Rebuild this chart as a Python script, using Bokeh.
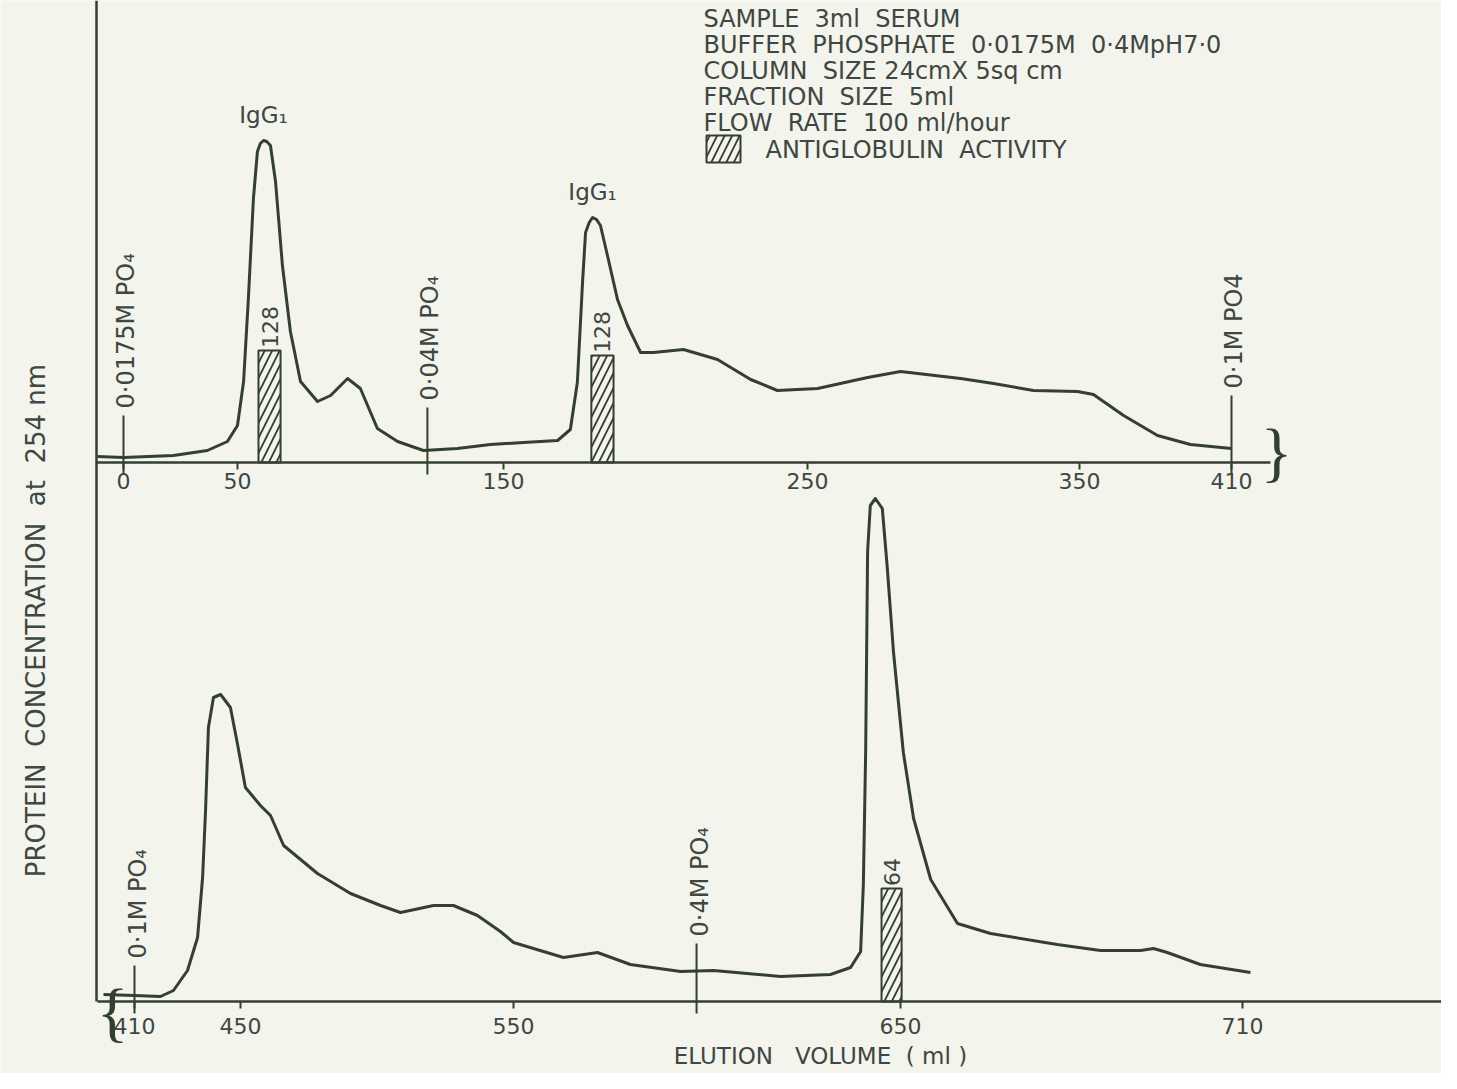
import numpy as np
from bokeh.plotting import figure
from bokeh.models import Range1d, LinearAxis, FixedTicker
from bokeh.core.properties import value
from bokeh.embed import file_html
from bokeh.resources import INLINE

# ---------------------------------------------------------------- data
# Upper trace: elution volume (ml, read against the printed axis) and A254 (arbitrary units)
TOP_ML = [-11.4, 0, 21.9, 36.8, 45.6, 50, 52.3, 54.1, 56.0, 57.5, 58.6, 59.8, 61.0, 62.4,
          64.3, 66.9, 69.9, 73.7, 80.1, 85.0, 91.4, 96.2, 102.6, 110.2, 119.9, 132.7,
          145.1, 156.6, 167.8, 172.0, 174.3, 176.0, 177.0, 178.2, 179.3, 180.6, 181.9,
          184.2, 187.5, 190.8, 195.1, 199.3, 209.2, 220.4, 231.3, 240.1, 253.7, 272.1,
          284.2, 306.3, 318.4, 333.1, 349.3, 355.5, 367.4, 380.8, 393.8, 410]
TOP_A254 = [0.03, 0.025, 0.035, 0.06, 0.105, 0.185, 0.405, 0.82, 1.32, 1.555, 1.595, 1.61,
            1.605, 1.585, 1.405, 0.985, 0.655, 0.405, 0.305, 0.335, 0.42, 0.37, 0.17, 0.105,
            0.06, 0.07, 0.09, 0.10, 0.11, 0.165, 0.40, 0.90, 1.15, 1.20, 1.225, 1.215, 1.185,
            1.035, 0.815, 0.685, 0.55, 0.55, 0.565, 0.515, 0.415, 0.36, 0.37, 0.425, 0.455,
            0.42, 0.395, 0.36, 0.355, 0.34, 0.235, 0.135, 0.09, 0.07]

# Lower trace
BOT_ML = [398.3, 410, 419.8, 424.7, 430.0, 433.8, 435.7, 436.8, 437.9, 439.8, 442.5, 446.2,
          448.9, 451.8, 457.3, 461.0, 465.8, 478.2, 490.3, 501.3, 508.6, 520.7, 528.0,
          536.8, 545.2, 550.0, 562.9, 571.7, 580.2, 593.2, 601.7, 619.0, 631.9, 637.1,
          639.7, 640.4, 641.0, 641.5, 642.2, 643.5, 645.3, 646.6, 648.2, 650.5, 652.3,
          655.3, 660.0, 665.8, 677.5, 685.1, 692.1, 694.4, 696.8, 702.6, 711.4]
BOT_A254 = [0.035, 0.03, 0.025, 0.055, 0.155, 0.32, 0.62, 0.95, 1.37, 1.52, 1.535, 1.47,
            1.285, 1.07, 0.98, 0.93, 0.78, 0.64, 0.54, 0.48, 0.445, 0.48, 0.48, 0.43, 0.35,
            0.295, 0.22, 0.245, 0.185, 0.15, 0.155, 0.125, 0.135, 0.17, 0.25, 0.585, 1.25,
            2.25, 2.48, 2.515, 2.465, 2.165, 1.745, 1.245, 0.915, 0.61, 0.39, 0.34, 0.285,
            0.255, 0.255, 0.265, 0.245, 0.185, 0.145]

TOP_TICKS = [0, 50, 150, 250, 350, 410]
BOT_TICKS = [410, 450, 550, 650, 710]

# antiglobulin activity (hatched): fraction limits (ml), bar height, titre
TOP_BAR_FROM = [57.9, 178.9]
TOP_BAR_TO = [66.2, 186.2]
TOP_BAR_H = [0.56, 0.535]
TOP_TITRE = ["128", "128"]
BOT_BAR_FROM = [645.1]
BOT_BAR_TO = [650.2]
BOT_BAR_H = [0.565]
BOT_TITRE = ["64"]

# buffer changes
TOP_BUFFER_ML = [0, 121.4, 410]
TOP_BUFFER = ["0·0175M PO₄", "0·04M PO₄", "0·1M PO4"]
BOT_BUFFER_ML = [410, 597.3]
BOT_BUFFER = ["0·1M PO₄", "0·4M PO₄"]

PEAK_NAMES = ["IgG₁", "IgG₁"]
PEAK_ML = [59.8, 179.3]
PEAK_A254 = [1.61, 1.225]

NB = " \u00a0"  # a wide gap that survives SVG whitespace collapsing
LEGEND_LINES = ["SAMPLE" + NB + "3ml" + NB + "SERUM",
                "BUFFER" + NB + "PHOSPHATE" + NB + "0·0175M" + NB + "0·4MpH7·0",
                "COLUMN" + NB + "SIZE 24cmX 5sq cm",
                "FRACTION" + NB + "SIZE" + NB + "5ml",
                "FLOW" + NB + "RATE" + NB + "100 ml/hour"]
LEGEND_KEY = "ANTIGLOBULIN" + NB + "ACTIVITY"
Y_TITLE = "PROTEIN" + NB + "CONCENTRATION" + NB + "at" + NB + "254 nm"
X_TITLE = "ELUTION" + NB + "\u00a0VOLUME" + NB + "( ml )"

# ---------------------------------------------------------------- layout / style
W, H = 1441, 1073
BG = "#f3f4ec"
INK = "#33402f"
TXT = "#3e4741"
FONT = "DejaVu Sans"

# The hand-lettered axes are not evenly spaced: where each printed tick lies on a linear scale
TOP_TICK_AT = [0.0, 42.18, 140.61, 253.11, 353.76, 410.0]
BOT_TICK_AT = [410.0, 438.70, 512.62, 617.40, 710.0]
TOP_MARK_LEN = [0.235, 0.275, 0.335]
BOT_MARK_LEN = [0.18, 0.29]


def warp(v, ticks, at):
    v = np.asarray(v, dtype=float)
    out = np.interp(v, ticks, at)
    lo, hi = v < ticks[0], v > ticks[-1]
    out[lo] = at[0] + (v[lo] - ticks[0]) * (at[1] - at[0]) / (ticks[1] - ticks[0])
    out[hi] = at[-1] + (v[hi] - ticks[-1]) * (at[-1] - at[-2]) / (ticks[-1] - ticks[-2])
    return out


def PY(py):  # picture row -> default y (pixels from the bottom of the frame)
    return H - py


p = figure(width=W, height=H, x_range=Range1d(0, W), y_range=Range1d(0, H),
           output_backend="svg", toolbar_location=None,
           x_axis_location=None, y_axis_location=None, min_border=0,
           background_fill_color=BG, border_fill_color=BG, outline_line_color=None)
p.grid.visible = False

p.extra_x_ranges = {"top": Range1d(-45.51, 487.71), "bot": Range1d(373.72, 763.88)}
p.extra_y_ranges = {"top": Range1d(-3.055, 2.31), "bot": Range1d(-0.36, 5.005)}

TXTKW = dict(text_font=value(FONT), text_color=TXT)
HATCH = dict(fill_color=BG, line_color=INK, line_width=2, hatch_pattern="/",
             hatch_color=INK, hatch_weight=1.8, hatch_scale=15)

for name, ml, a, ticks, at, bf, bt, bh, titre, bml, blab, blen in [
    ("top", TOP_ML, TOP_A254, TOP_TICKS, TOP_TICK_AT, TOP_BAR_FROM, TOP_BAR_TO, TOP_BAR_H,
     TOP_TITRE, TOP_BUFFER_ML, TOP_BUFFER, TOP_MARK_LEN),
    ("bot", BOT_ML, BOT_A254, BOT_TICKS, BOT_TICK_AT, BOT_BAR_FROM, BOT_BAR_TO, BOT_BAR_H,
     BOT_TITRE, BOT_BUFFER_ML, BOT_BUFFER, BOT_MARK_LEN)]:
    rk = dict(x_range_name=name, y_range_name=name)
    left, right = warp(bf, ticks, at), warp(bt, ticks, at)
    p.quad(left=left, right=right, bottom=0, top=bh, **HATCH, **rk)
    p.text(x=(left + right) / 2, y=np.array(bh) + 0.012, text=titre, angle=np.pi / 2,
           text_align="left", text_baseline="middle", text_font_size="22px", **TXTKW, **rk)
    mx = warp(bml, ticks, at)
    p.segment(x0=mx, y0=-0.06, x1=mx, y1=blen, line_color=INK, line_width=2, **rk)
    p.text(x=mx + 1.0, y=np.array(blen) + 0.035, text=blab, angle=np.pi / 2,
           text_align="left", text_baseline="middle", text_font_size="24px", **TXTKW, **rk)
    p.line(warp(ml, ticks, at), a, line_width=3, line_color=INK, line_join="round", **rk)

p.text(x=warp(PEAK_ML, TOP_TICKS, TOP_TICK_AT), y=np.array(PEAK_A254) + 0.13, text=PEAK_NAMES,
       text_align="center", text_baseline="middle", text_font_size="23px",
       x_range_name="top", y_range_name="top", **TXTKW)

# axes
axkw = dict(axis_line_color=INK, axis_line_width=2.5, major_tick_line_color=INK,
            major_tick_line_width=2, major_tick_in=0, major_tick_out=7, minor_tick_out=0,
            minor_tick_in=0, major_label_text_font=FONT, major_label_text_color=TXT,
            major_label_text_font_size="22px")
top_ax = LinearAxis(x_range_name="top", y_range_name="top", fixed_location=0,
                    ticker=FixedTicker(ticks=TOP_TICK_AT),
                    major_label_overrides={t: str(l) for t, l in zip(TOP_TICK_AT, TOP_TICKS)},
                    bounds=(-10.0, 424.4), major_label_standoff=3, **axkw)
p.add_layout(top_ax, "below")
bot_ax = LinearAxis(x_range_name="bot", y_range_name="bot", fixed_location=0,
                    ticker=FixedTicker(ticks=BOT_TICK_AT),
                    major_label_overrides={t: str(l) for t, l in zip(BOT_TICK_AT, BOT_TICKS)},
                    bounds=(400.0, 763.88), major_label_standoff=9, **axkw)
p.add_layout(bot_ax, "below")
y_ax = LinearAxis(y_range_name="bot", fixed_location=96, ticker=FixedTicker(ticks=[]),
                  bounds=(0, 5.005), axis_line_color=INK, axis_line_width=2.5,
                  major_tick_out=0, minor_tick_out=0, major_label_text_font_size="0px")
p.add_layout(y_ax, "left")

# axis break marks
p.text(x=[1276, 112], y=[PY(451), PY(1011)], text=["}", "{"], text_align="center",
       text_baseline="middle", text_font_size="66px", text_font=value("Liberation Serif"),
       text_color=INK)

# titles
p.text(x=[35], y=[PY(620)], text=[Y_TITLE], angle=np.pi / 2, text_align="center",
       text_baseline="middle", text_font_size="26px", **TXTKW)
p.text(x=[820], y=[PY(1055)], text=[X_TITLE], text_align="center",
       text_baseline="middle", text_font_size="23px", **TXTKW)

# legend block
p.text(x=[703] * len(LEGEND_LINES), y=[PY(v) for v in (18, 44, 70, 96, 122)],
       text=LEGEND_LINES, text_align="left", text_baseline="middle",
       text_font_size="24px", **TXTKW)
p.quad(left=[706], right=[740], bottom=[PY(162)], top=[PY(135)], **HATCH)
p.text(x=[765], y=[PY(149)], text=[LEGEND_KEY], text_align="left", text_baseline="middle",
       text_font_size="24px", **TXTKW)

open("out.html", "w").write(file_html(p, INLINE))
